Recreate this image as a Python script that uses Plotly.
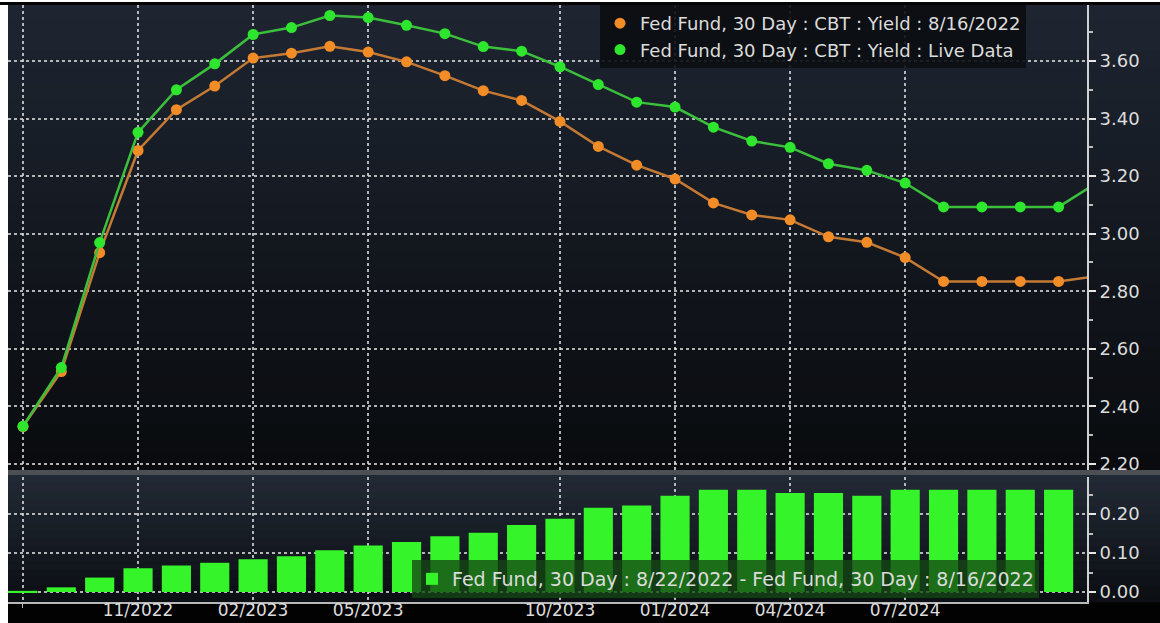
import plotly.graph_objects as go
from plotly.subplots import make_subplots

# ---------------- data ----------------
months = ["08/2022", "09/2022", "10/2022", "11/2022", "12/2022", "01/2023", "02/2023",
          "03/2023", "04/2023", "05/2023", "06/2023", "07/2023", "08/2023", "09/2023",
          "10/2023", "11/2023", "12/2023", "01/2024", "02/2024", "03/2024", "04/2024",
          "05/2024", "06/2024", "07/2024", "08/2024", "09/2024", "10/2024", "11/2024",
          "12/2024"]

yield_0816 = [2.330, 2.521, 2.934, 3.289, 3.431, 3.513, 3.610, 3.627, 3.651, 3.631,
              3.597, 3.549, 3.497, 3.463, 3.390, 3.303, 3.238, 3.190, 3.107, 3.065,
              3.048, 2.989, 2.970, 2.917, 2.834, 2.834, 2.834, 2.834, 2.853]

yield_live = [2.331, 2.535, 2.969, 3.352, 3.500, 3.590, 3.692, 3.716, 3.758, 3.751,
              3.724, 3.695, 3.650, 3.634, 3.580, 3.518, 3.457, 3.440, 3.370, 3.322,
              3.300, 3.243, 3.220, 3.176, 3.093, 3.093, 3.093, 3.093, 3.177]

bar_months = months[:28]
spread = [0.003, 0.012, 0.037, 0.061, 0.068, 0.075, 0.084, 0.092, 0.107, 0.119,
          0.128, 0.143, 0.152, 0.172, 0.188, 0.216, 0.222, 0.247, 0.262, 0.262,
          0.254, 0.254, 0.247, 0.262, 0.262, 0.262, 0.262, 0.262]

tick_months = ["08/2022", "11/2022", "02/2023", "05/2023", "10/2023", "01/2024",
               "04/2024", "07/2024"]
tick_labels = ["", "11/2022", "02/2023", "05/2023", "10/2023", "01/2024",
               "04/2024", "07/2024"]

name_old = "Fed Fund, 30 Day : CBT : Yield : 8/16/2022"
name_live = "Fed Fund, 30 Day : CBT : Yield : Live Data"
name_bar = "Fed Fund, 30 Day : 8/22/2022 - Fed Fund, 30 Day : 8/16/2022"

# ---------------- layout geometry ----------------
W, H = 1160, 623
ML, MR, MT, MB = 8, 73, 5, 21
PW, PH = W - ML - MR, H - MT - MB


def py(p):  # pixel y -> paper y
    return 1 - (p - MT) / PH


def pxx(p):  # pixel x -> paper x
    return (p - ML) / PW


FONT = "DejaVu Sans"
TXT = "#dcdcdc"
GRID = "rgba(225,225,225,0.78)"

fig = make_subplots(rows=2, cols=1, shared_xaxes=True)

fig.add_trace(go.Scatter(x=months, y=yield_0816, mode="lines+markers",
                         line=dict(color="#c47a34", width=2.5),
                         marker=dict(color="#f28c26", size=11),
                         showlegend=False, hoverinfo="skip"), row=1, col=1)
fig.add_trace(go.Scatter(x=months, y=yield_live, mode="lines+markers",
                         line=dict(color="#3cbf3c", width=2.5),
                         marker=dict(color="#2ee62e", size=11),
                         showlegend=False, hoverinfo="skip"), row=1, col=1)
# legend-only entries (dots)
fig.add_trace(go.Scatter(x=[None], y=[None], mode="markers", name=name_old,
                         marker=dict(color="#f28c26", size=11), legend="legend"),
              row=1, col=1)
fig.add_trace(go.Scatter(x=[None], y=[None], mode="markers", name=name_live,
                         marker=dict(color="#2ee62e", size=11), legend="legend"),
              row=1, col=1)

fig.add_trace(go.Bar(x=bar_months, y=spread, name=name_bar, width=0.76,
                     marker=dict(color="#36f42a", line=dict(width=0)),
                     legend="legend2", hoverinfo="skip"), row=2, col=1)

# ---------------- background bands (gradient look) ----------------
shapes = []


def lerp(a, b, t):
    return tuple(round(a[i] + (b[i] - a[i]) * t) for i in range(3))


def gradient(y_top, y_bot, c_top, c_bot, n=30):
    step = (y_bot - y_top) / n
    for i in range(n):
        c = lerp(c_top, c_bot, i / (n - 1))
        shapes.append(dict(type="rect", xref="paper", yref="paper",
                           x0=pxx(8), x1=pxx(W + 2),
                           y0=py(y_top + step * (i + 1) + 0.5), y1=py(y_top + step * i),
                           fillcolor="rgb(%d,%d,%d)" % c, line=dict(width=0),
                           layer="below"))


gradient(5, 470, (30, 37, 49), (9, 11, 14))
shapes.append(dict(type="rect", xref="paper", yref="paper", x0=pxx(8), x1=pxx(W + 2),
                   y0=py(475), y1=py(470), fillcolor="#4c4f53", line=dict(width=0),
                   layer="below"))
gradient(475, 602, (33, 41, 52), (12, 15, 20), n=16)
# white frame strips
shapes.append(dict(type="rect", xref="paper", yref="paper", x0=pxx(-2), x1=pxx(8),
                   y0=py(H + 2), y1=py(-2), fillcolor="white", line=dict(width=0),
                   layer="above"))
shapes.append(dict(type="rect", xref="paper", yref="paper", x0=pxx(-2), x1=pxx(W + 2),
                   y0=py(2), y1=py(-2), fillcolor="white", line=dict(width=0),
                   layer="above"))
shapes.append(dict(type="rect", xref="paper", yref="paper", x0=pxx(-2), x1=pxx(W + 2),
                   y0=py(5), y1=py(2), fillcolor="#050505", line=dict(width=0),
                   layer="above"))

fig.update_layout(
    width=W, height=H,
    margin=dict(l=ML, r=MR, t=MT, b=MB, autoexpand=False),
    paper_bgcolor="#020203",
    plot_bgcolor="rgba(0,0,0,0)",
    font=dict(family=FONT, size=18, color=TXT),
    shapes=shapes,
    bargap=0.24,
    legend=dict(x=pxx(600), y=1, xanchor="left", yanchor="top",
                bgcolor="rgba(11,13,17,0.9)", borderwidth=0,
                font=dict(family=FONT, size=18, color=TXT),
                itemwidth=30, tracegroupgap=0),
    legend2=dict(x=pxx(412), y=py(560), xanchor="left", yanchor="top",
                 bgcolor="rgba(20,72,20,0.78)", borderwidth=0,
                 font=dict(family=FONT, size=19, color=TXT),
                 itemwidth=30),
)

xcommon = dict(type="category", categoryorder="array", categoryarray=months,
               range=[-0.39, 27.74], tickmode="array", tickvals=tick_months,
               showgrid=True, gridcolor=GRID, griddash="dot", gridwidth=1.5,
               zeroline=False, automargin=False)

fig.update_xaxes(**xcommon, showticklabels=False, ticks="", showline=False,
                 row=1, col=1)
fig.update_xaxes(**xcommon, ticktext=tick_labels, showticklabels=True,
                 ticks="outside", ticklen=4, tickcolor="#bbbbbb",
                 ticklabelstandoff=-12,
                 showline=True, linecolor="#b8b8b8", linewidth=2,
                 tickfont=dict(family=FONT, size=17, color=TXT),
                 row=2, col=1)

ycommon = dict(side="right", showgrid=True, gridcolor=GRID, griddash="dot",
               gridwidth=1.5, zeroline=False, showline=True, linecolor="#d0d0d0",
               linewidth=2, ticks="outside", ticklen=7, tickwidth=2,
               tickcolor="#e6e6e6", tickformat=".2f", automargin=False,
               tickfont=dict(family=FONT, size=18, color=TXT))

fig.update_yaxes(**ycommon, domain=[py(470), 1], range=[2.179, 3.7945],
                 tick0=2.2, dtick=0.2,
                 minor=dict(ticks="outside", ticklen=4, tickcolor="#bdbdbd",
                            dtick=0.1, tick0=2.2, showgrid=False),
                 row=1, col=1)
fig.update_yaxes(**ycommon, domain=[0, py(477)], range=[-0.0256, 0.295],
                 tick0=0, dtick=0.1,
                 minor=dict(ticks="outside", ticklen=4, tickcolor="#bdbdbd",
                            dtick=0.05, tick0=0, showgrid=False),
                 row=2, col=1)

fig.write_html("out.html",
               config={"displayModeBar": False},
               post_script="document.body.style.margin='0';"
                           "document.body.style.overflow='hidden';")
